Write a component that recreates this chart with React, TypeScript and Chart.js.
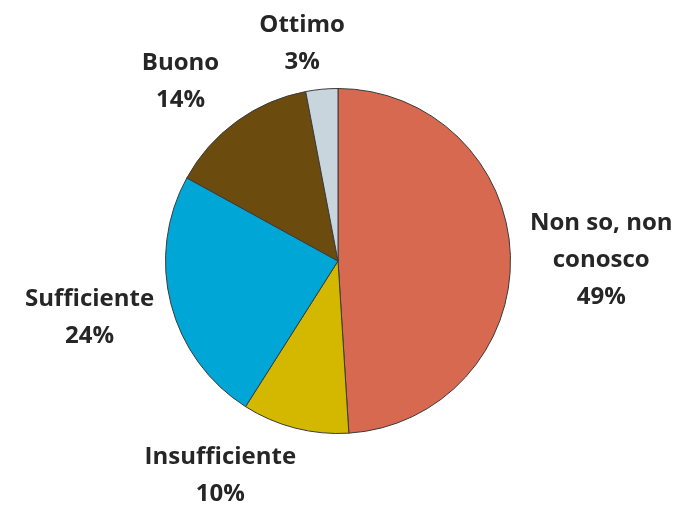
import React, { useEffect, useRef } from "react";
import { Chart, registerables } from "chart.js";

Chart.register(...registerables);

const categories = ["Non so, non conosco", "Insufficiente", "Sufficiente", "Buono", "Ottimo"];
const labelLines = [["Non so, non", "conosco"], ["Insufficiente"], ["Sufficiente"], ["Buono"], ["Ottimo"]];
const values = [49, 10, 24, 14, 3];
const colors = ["#D66950", "#D4B800", "#00A6D6", "#6B4C0E", "#C9D5DD"];
// label centre offsets, in units of pie radius, relative to pie centre
const labelOffsets = [
  [1.526, -0.006],
  [-0.682, 1.243],
  [-1.44, 0.33],
  [-0.913, -1.04],
  [-0.208, -1.26],
];

const labelPlugin = {
  id: "outsideLabels",
  afterDraw(chart: any) {
    const ctx = chart.ctx;
    const meta = chart.getDatasetMeta(0);
    ctx.save();
    ctx.font = "bold 24px 'Open Sans', Lato, sans-serif";
    ctx.fillStyle = "#262626";
    ctx.textAlign = "center";
    ctx.textBaseline = "middle";
    const lh = 37;
    meta.data.forEach((arc: any, i: number) => {
      const cx = arc.x;
      const cy = arc.y;
      const r = arc.outerRadius;
      const lines = [...labelLines[i], values[i] + "%"];
      const x = cx + labelOffsets[i][0] * r;
      const y = cy + labelOffsets[i][1] * r;
      const top = y - ((lines.length - 1) * lh) / 2;
      lines.forEach((t, j) => ctx.fillText(t, x, top + j * lh));
    });
    ctx.restore();
  },
};

export default function App() {
  const ref = useRef<HTMLCanvasElement | null>(null);
  useEffect(() => {
    document.body.style.margin = "0";
    const chart = new Chart(ref.current!, {
      type: "pie",
      data: {
        labels: categories,
        datasets: [
          {
            data: values,
            backgroundColor: colors,
            borderColor: "#3a3a3a",
            borderWidth: 1,
          },
        ],
      },
      options: {
        animation: false,
        responsive: false,
        maintainAspectRatio: false,
        layout: { padding: { top: 88, bottom: 72, left: 165, right: 173 } },
        plugins: { legend: { display: false }, tooltip: { enabled: false } },
      },
      plugins: [labelPlugin],
    });
    return () => chart.destroy();
  }, []);
  return (
    <div style={{ width: 684, height: 506, background: "#fff" }}>
      <canvas ref={ref} width={684} height={506} style={{ display: "block" }} />
    </div>
  );
}
